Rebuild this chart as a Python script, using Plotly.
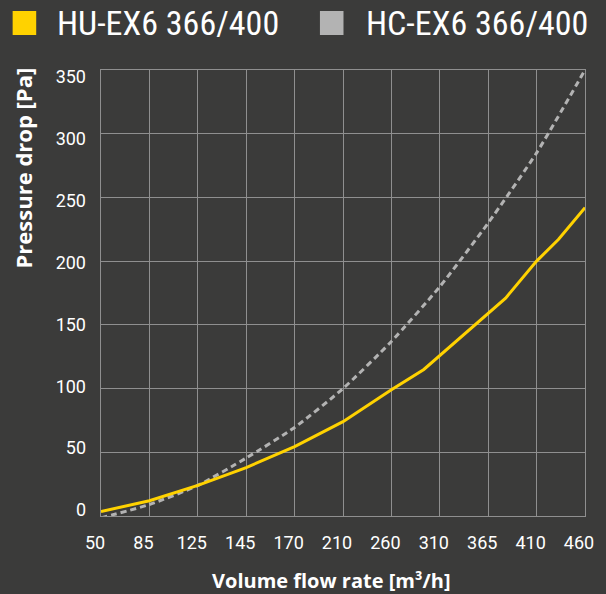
import plotly.graph_objects as go

# ---- data ----
x_tick_labels = ["50", "85", "125", "145", "170", "210", "260", "310", "365", "410", "460"]
y_tick_values = [0, 50, 100, 150, 200, 250, 300, 350]

series_names = ["HU-EX6 366/400", "HC-EX6 366/400"]
series_colors = ["#FFD200", "#B3B3B3"]

# positions on the category index scale (0 = 50 m3/h ... 10 = 460 m3/h)
hu_x = [0, 1, 2, 3, 4, 5, 6, 6.67, 8.36, 9, 9.45, 10]
hu_y = [3.5, 12, 24, 38, 54.5, 74, 99, 115, 171, 200, 217, 242]

hc_x = [0, 1, 2, 3, 4, 5, 6, 7, 8, 9, 10]
hc_y = [-1.5, 9, 24, 45.5, 69.5, 100, 137, 180, 230, 285, 350]

x_title = "Volume flow rate [m³/h]"
y_title = "Pressure drop [Pa]"

# ---- layout geometry (pixels) ----
W, H = 606, 594
L, R, T, B = 101, 594, 70, 516
pw, ph = R - L, B - T


def px(p):
    return (p - L) / pw


def py(p):
    return (B - p) / ph


BG = "#3B3B3A"
GRID = "#8F8F8F"
TXT = "#FFFFFF"
NARROW = "Roboto Condensed, DejaVu Sans Condensed, Roboto"
TICKF = "Roboto"
BOLD = "Open Sans"

fig = go.Figure()

fig.add_trace(go.Scatter(
    x=hc_x, y=hc_y, mode="lines", name=series_names[1],
    line=dict(color=series_colors[1], width=3, dash="6px,4px", shape="spline", smoothing=0.6),
    showlegend=False, hoverinfo="skip",
))
fig.add_trace(go.Scatter(
    x=hu_x, y=hu_y, mode="lines", name=series_names[0],
    line=dict(color=series_colors[0], width=3),
    showlegend=False, hoverinfo="skip",
))

# label-only overlay y axis (labels in the original are spaced slightly tighter than the grid)
fig.add_trace(go.Scatter(x=[None], y=[None], yaxis="y2", showlegend=False, hoverinfo="skip"))

ylab0, ylab350 = 510, 77
sy = (ylab0 - ylab350) / 350.0

fig.update_layout(
    width=W, height=H,
    paper_bgcolor=BG, plot_bgcolor=BG,
    margin=dict(l=L, r=W - R, t=T, b=H - B, pad=0),
    showlegend=False,
    xaxis=dict(
        range=[0, 10], tickvals=list(range(11)), ticktext=x_tick_labels,
        showgrid=True, gridcolor=GRID, gridwidth=1,
        zeroline=False, showline=True, linecolor=GRID, linewidth=1, mirror=True,
        ticks="", ticklabelstandoff=10, ticklabelshift=-6,
        tickfont=dict(family=TICKF, size=18, color=TXT),
        fixedrange=True,
    ),
    yaxis=dict(
        range=[0, 350], tickvals=y_tick_values, showticklabels=False,
        showgrid=True, gridcolor=GRID, gridwidth=1,
        zeroline=False, showline=True, linecolor=GRID, linewidth=1, mirror=True,
        fixedrange=True,
    ),
    yaxis2=dict(
        overlaying="y", side="left",
        range=[(ylab0 - B) / sy, (ylab0 - T) / sy],
        tickvals=y_tick_values, ticktext=[str(v) for v in y_tick_values],
        showgrid=False, zeroline=False, showline=False,
        ticks="", ticklabelstandoff=14,
        tickfont=dict(family=TICKF, size=18, color=TXT),
        fixedrange=True,
    ),
)

# axis titles
fig.add_annotation(
    text=f"<b>{x_title}</b>", xref="paper", yref="paper",
    x=px(336), y=py(580), xanchor="center", yanchor="middle", showarrow=False,
    font=dict(family=BOLD, size=20, color=TXT),
)
fig.add_annotation(
    text=f"<b>{y_title}</b>", xref="paper", yref="paper", textangle=-90,
    x=px(22), y=py(168), xanchor="center", yanchor="middle", showarrow=False,
    font=dict(family=BOLD, size=22, color=TXT),
)

# legend (swatches + names)
legend_sq_x = [11, 324]
legend_txt_x = [56, 371]
for i in range(2):
    fig.add_shape(
        type="rect", xref="paper", yref="paper",
        x0=px(legend_sq_x[i]), x1=px(legend_sq_x[i] + 24), y0=py(35), y1=py(11),
        fillcolor=series_colors[i], line=dict(width=0),
    )
    fig.add_annotation(
        text=series_names[i], xref="paper", yref="paper",
        x=px(legend_txt_x[i] - 2), y=py(23), xanchor="left", yanchor="middle", showarrow=False,
        font=dict(family=NARROW, size=34, color=TXT),
    )

fig.write_html(
    "out.html",
    config={"displayModeBar": False},
    post_script="document.body.style.margin='0';document.body.style.overflow='hidden';",
)
